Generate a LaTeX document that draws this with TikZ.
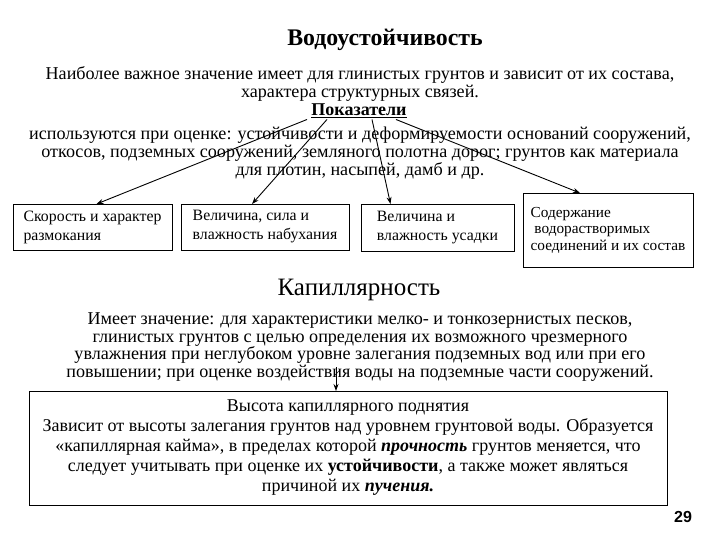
\documentclass[tikz,border=0pt]{standalone}
\usepackage{fontspec}
\setmainfont{Liberation Serif}
\newfontfamily\pagefont{Liberation Sans}
\usetikzlibrary{arrows.meta,positioning}

\begin{document}
\begin{tikzpicture}[x=1pt,y=-1pt,>={Stealth[length=7pt,width=5pt]},
    every node/.style={inner sep=0pt,outer sep=0pt}]
  \tikzstyle{txt}=[font=\fontsize{18.1}{17.7}\selectfont,align=center]
  \tikzstyle{pokbox}=[draw,line width=0.8pt,anchor=north west,align=left,
    font=\fontsize{15.8}{19}\selectfont]
  \tikzstyle{link}=[->,line width=0.9pt]
  \useasboundingbox (0,0) rectangle (720,540);
  % Water resistance
  \node[font=\bfseries\fontsize{23.8}{26}\selectfont] (title) at (385,40) {Водоустойчивость};
  \node[txt] (intro) at (360,84) {Наиболее важное значение имеет для глинистых грунтов и зависит от их состава,\\
    характера структурных связей.};
  \node[font=\bfseries\fontsize{18}{18}\selectfont,inner sep=1.5pt] (pok) at (359,111) {\underline{Показатели}};
  \node[txt] (use) at (360,153) {используются при оценке: устойчивости и деформируемости оснований сооружений,\\
    откосов, подземных сооружений, земляного полотна дорог; грунтов как материала\\
    для плотин, насыпей, дамб и др.};
  % Indicators
  \node[pokbox,minimum width=159,minimum height=46] (b1) at (13,204) {Скорость и характер\\размокания};
  \node[pokbox,minimum width=168,minimum height=46] (b2) at (181,204) {Величина, сила и\\влажность набухания};
  \node[pokbox,minimum width=153,minimum height=47] (b3) at (361,204) {Величина и\\влажность усадки};
  \node[pokbox,minimum width=170,minimum height=74,
    font=\fontsize{15.3}{16.5}\selectfont] (b4) at (523,193)
    {Содержание\\\ водорастворимых\\соединений и их состав};
  \draw[link] ([xshift=-52pt]pok.south) -- ([xshift=4pt]b1.north);
  \draw[link] ([xshift=-32pt]pok.south) -- ([xshift=-13pt]b2.north);
  \draw[link] ([xshift=13pt]pok.south) -- ([xshift=-47pt]b3.north);
  \draw[link] ([xshift=37pt]pok.south) -- ([xshift=-28pt]b4.north);
  % Capillarity
  \node[font=\fontsize{25}{28}\selectfont] (cap) at (359,290) {Капиллярность};
  \node[txt] (cpara) at (360,347) {Имеет значение: для характеристики мелко- и тонкозернистых песков,\\
    глинистых грунтов с целью определения их возможного чрезмерного\\
    увлажнения при неглубоком уровне залегания подземных вод или при его\\
    повышении; при оценке воздействия воды на подземные части сооружений.};
  \node[draw,line width=0.8pt,minimum width=638,minimum height=114,align=center,
    font=\fontsize{18}{20}\selectfont] (rise) at (348,448)
    {Высота капиллярного поднятия\\
    Зависит от высоты залегания грунтов над уровнем грунтовой воды. Образуется\\
    «капиллярная кайма», в пределах которой \textbf{\textit{прочность}} грунтов меняется, что\\
    следует учитывать при оценке их \textbf{устойчивости}, а также может являться\\
    причиной их \textbf{\textit{пучения.}}};
  \draw[link] ([xshift=-24pt,yshift=14pt]cpara.south) -- ([xshift=-12pt]rise.north);
  \node[font=\pagefont\bfseries\fontsize{16}{18}\selectfont] (page) at (683,517) {29};
\end{tikzpicture}
\end{document}
